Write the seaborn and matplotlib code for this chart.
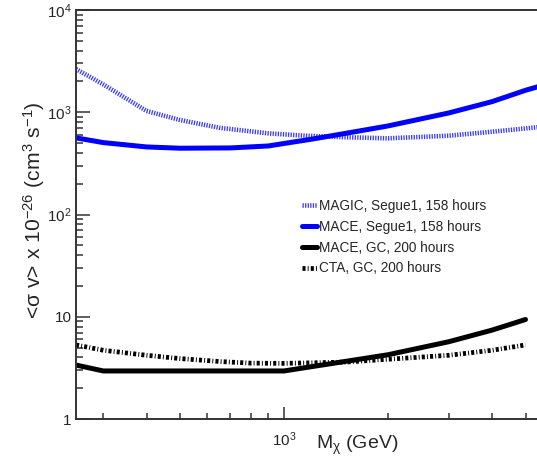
import numpy as np
import pandas as pd
import matplotlib
matplotlib.use("Agg")
import matplotlib.pyplot as plt
import matplotlib.ticker as mticker
import seaborn as sns

# ---- data ----
magic_mass = [250, 300, 400, 500, 650, 900, 1150, 1500, 2000, 3000, 4000, 5000, 6000]
magic_sv = [2650, 1870, 1030, 840, 705, 622, 590, 570, 556, 590, 645, 695, 740]

mace_seg_mass = [250, 300, 400, 500, 700, 900, 1000, 1200, 1500, 2000, 3000, 4000, 5000, 6000]
mace_seg_sv = [562, 505, 458, 445, 448, 468, 495, 545, 620, 735, 985, 1270, 1640, 1960]

mace_gc_mass = [250, 300, 1000, 2000, 3000, 4000, 5000]
mace_gc_sv = [3.37, 2.95, 2.95, 4.25, 5.7, 7.4, 9.4]

cta_mass = [250, 300, 400, 500, 650, 800, 1000, 1500, 2000, 3000, 4000, 5000]
cta_sv = [5.3, 4.7, 4.2, 3.9, 3.65, 3.52, 3.5, 3.6, 3.84, 4.2, 4.7, 5.3]

series_labels = ["MAGIC, Segue1, 158 hours", "MACE, Segue1, 158 hours",
                 "MACE, GC, 200 hours", "CTA, GC, 200 hours"]

y_ticks = [1, 10, 100, 1000, 10000]
y_tick_labels = ["1", "10", "$10^{2}$", "$10^{3}$", "$10^{4}$"]
x_ticks = [1000]
x_tick_labels = ["$10^{3}$"]

# ---- style ----
sns.set_style("white")
plt.rcParams["font.family"] = ["Liberation Sans", "DejaVu Sans"]
plt.rcParams["mathtext.fontset"] = "custom"
plt.rcParams["mathtext.rm"] = "Liberation Sans"
plt.rcParams["mathtext.it"] = "Liberation Sans:italic"
plt.rcParams["mathtext.bf"] = "Liberation Sans:bold"
plt.rcParams["mathtext.default"] = "regular"

fig = plt.figure(figsize=(5.37, 4.68), dpi=100)
ax = fig.add_axes([0.1415, 0.1047, 0.8737, 0.8739])

df_magic = pd.DataFrame({"m": magic_mass, "sv": magic_sv})
df_mseg = pd.DataFrame({"m": mace_seg_mass, "sv": mace_seg_sv})
df_mgc = pd.DataFrame({"m": mace_gc_mass, "sv": mace_gc_sv})
df_cta = pd.DataFrame({"m": cta_mass, "sv": cta_sv})

sns.lineplot(data=df_magic, x="m", y="sv", ax=ax, color="#3a3aff", lw=3.3,
             linestyle=(0, (0.28, 0.28)), label=series_labels[0])
sns.lineplot(data=df_mseg, x="m", y="sv", ax=ax, color="#0000ff", lw=3.6,
             label=series_labels[1])
sns.lineplot(data=df_mgc, x="m", y="sv", ax=ax, color="black", lw=3.6,
             label=series_labels[2])
sns.lineplot(data=df_cta, x="m", y="sv", ax=ax, color="black", lw=3.4,
             linestyle=(0, (0.65, 0.45, 0.2, 0.45)), label=series_labels[3])

ax.set_xscale("log")
ax.set_yscale("log")
ax.set_xlim(250, 5700)
ax.set_ylim(1, 10000)

ax.yaxis.set_major_locator(mticker.FixedLocator(y_ticks))
ax.yaxis.set_major_formatter(mticker.FixedFormatter(y_tick_labels))
ax.yaxis.set_minor_locator(mticker.LogLocator(base=10, subs=np.arange(2, 10)))
ax.yaxis.set_minor_formatter(mticker.NullFormatter())
ax.xaxis.set_major_locator(mticker.FixedLocator(x_ticks))
ax.xaxis.set_major_formatter(mticker.FixedFormatter(x_tick_labels))
ax.xaxis.set_minor_locator(mticker.LogLocator(base=10, subs=np.arange(2, 10)))
ax.xaxis.set_minor_formatter(mticker.NullFormatter())

for s in ax.spines.values():
    s.set_color("#333333")
    s.set_linewidth(1.4)

ax.tick_params(axis="y", which="major", direction="in", length=10, width=1.1,
               color="#333333", labelsize=11, pad=3, left=True)
ax.tick_params(axis="y", which="minor", direction="in", length=5, width=1.1,
               color="#333333", left=True)
ax.tick_params(axis="x", which="major", direction="in", length=9, width=1.1,
               color="#333333", labelsize=11, pad=8, bottom=True)
ax.tick_params(axis="x", which="minor", direction="in", length=4.5, width=1.1,
               color="#333333", bottom=True)

ax.set_ylabel("<σ v> x 10$^{-26}$ (cm$^{3}$ s$^{-1}$)", fontsize=15.2, va="center")
ax.yaxis.set_label_coords(-0.089, 0.511)
ax.set_xlabel("M$_{χ}$ (GeV)", fontsize=14, va="center")
ax.xaxis.set_label_coords(0.599, -0.064)

ax.legend(loc="upper left", bbox_to_anchor=(0.5624, 0.575),
          bbox_transform=fig.transFigure, frameon=False, fontsize=9.8,
          handlelength=1.1, handletextpad=0.15, labelspacing=0.5,
          borderpad=0, borderaxespad=0)

fig.savefig("out.png", dpi=100)
